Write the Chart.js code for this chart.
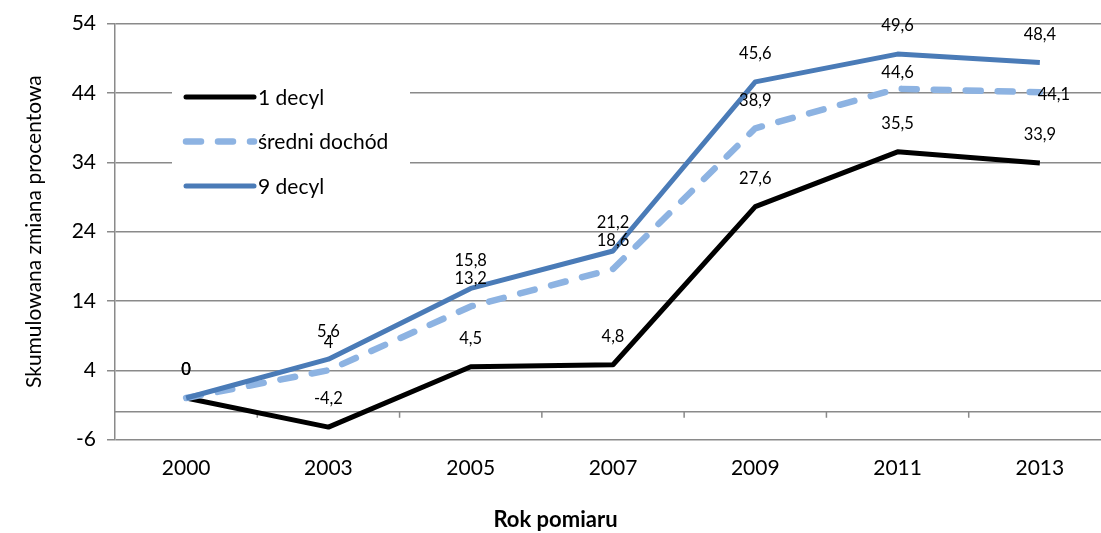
<!DOCTYPE html>
<html lang="pl">
<head>
<meta charset="utf-8">
<title>Skumulowana zmiana procentowa</title>
<script src="https://cdn.jsdelivr.net/npm/chart.js@4/dist/chart.umd.min.js"></script>
<style>
  html, body { margin: 0; padding: 0; background: #fff; overflow: hidden; }
  #wrap { position: relative; width: 1120px; height: 533px; }
</style>
</head>
<body>
<div id="wrap"><canvas id="wykres"></canvas></div>
<script>
// dane
const lata = ['2000', '2003', '2005', '2007', '2009', '2011', '2013'];
const decyl1 = [0, -4.2, 4.5, 4.8, 27.6, 35.5, 33.9];
const sredniDochod = [0, 4, 13.2, 18.6, 38.9, 44.6, 44.1];
const decyl9 = [0, 5.6, 15.8, 21.2, 45.6, 49.6, 48.4];
const nazwySerii = ['1 decyl', 'średni dochód', '9 decyl'];
const osY = { min: -6, max: 54, krok: 10, przeciecie: -2 };

const FONT = 'Lato, "Open Sans", sans-serif';
const SIATKA = '#8a8a8a';

// etykiety z wartościami (przesunięcia wyjątków: "seria:punkt")
const przesuniecia = { '1:5': [0, -16], '1:6': [14, 2] };

const etykietyPlugin = {
    id: 'etykiety',
    afterDatasetsDraw(chart) {
        const ctx = chart.ctx;
        ctx.save();
        ctx.font = '16.5px ' + FONT;
        ctx.fillStyle = '#000';
        ctx.textAlign = 'center';
        ctx.textBaseline = 'middle';
        chart.data.datasets.forEach((ds, i) => {
            chart.getDatasetMeta(i).data.forEach((pt, j) => {
                const o = przesuniecia[i + ':' + j] || [0, -28];
                ctx.fillText(String(ds.data[j]).replace('.', ','), pt.x + o[0], pt.y + o[1]);
            });
        });
        ctx.restore();
    }
};

// linia osi kategorii (przecina oś Y przy -2) ze znacznikami
const osPlugin = {
    id: 'osKategorii',
    beforeDatasetsDraw(chart) {
        const { ctx, chartArea, scales } = chart;
        const y = scales.y.getPixelForValue(osY.przeciecie);
        const x = scales.x;
        const pol = (x.getPixelForValue(1) - x.getPixelForValue(0)) / 2;
        ctx.save();
        ctx.strokeStyle = SIATKA;
        ctx.lineWidth = 1.5;
        ctx.beginPath();
        ctx.moveTo(chartArea.left, y);
        ctx.lineTo(chartArea.right, y);
        for (let i = 1; i < lata.length; i++) {
            const px = x.getPixelForValue(i) - pol;
            ctx.moveTo(px, y);
            ctx.lineTo(px, y + 6);
        }
        ctx.stroke();
        ctx.restore();
    }
};

// legenda w obszarze wykresu, na białym tle
const legendaPlugin = {
    id: 'legenda',
    afterDraw(chart) {
        const ctx = chart.ctx;
        ctx.save();
        ctx.fillStyle = '#fff';
        ctx.fillRect(172, 66, 238, 138);
        ctx.font = '21px ' + FONT;
        ctx.textBaseline = 'middle';
        ctx.fillStyle = '#000';
        chart.data.datasets.forEach((ds, i) => {
            const y = 97 + i * 44.5;
            ctx.strokeStyle = ds.borderColor;
            ctx.lineWidth = ds.borderWidth;
            ctx.lineCap = 'round';
            ctx.setLineDash(ds.borderDash || []);
            ctx.beginPath();
            ctx.moveTo(186, y);
            ctx.lineTo(254, y);
            ctx.stroke();
            ctx.setLineDash([]);
            ctx.fillText(ds.label, 258, y + 1);
        });
        ctx.restore();
    }
};

new Chart(document.getElementById('wykres'), {
    type: 'line',
    data: {
        labels: lata,
        datasets: [
            {
                label: nazwySerii[0],
                data: decyl1,
                borderColor: '#000000',
                borderWidth: 5,
                order: 3
            },
            {
                label: nazwySerii[1],
                data: sredniDochod,
                borderColor: '#8db3e2',
                borderWidth: 6.5,
                borderDash: [15, 17],
                borderCapStyle: 'round',
                order: 2
            },
            {
                label: nazwySerii[2],
                data: decyl9,
                borderColor: '#4a7bb7',
                borderWidth: 5,
                order: 1
            }
        ]
    },
    options: {
        responsive: true,
        maintainAspectRatio: false,
        animation: false,
        layout: { padding: { top: 20, right: 9, left: 0, bottom: 0 } },
        elements: {
            line: { tension: 0, borderJoinStyle: 'round', fill: false },
            point: { radius: 0, hoverRadius: 0 }
        },
        scales: {
            x: {
                offset: true,
                grid: { display: false, drawTicks: false },
                border: { display: false },
                ticks: { color: '#000', padding: 16, font: { family: FONT, size: 21 } },
                afterFit: s => { s.height = 60; }
            },
            y: {
                min: osY.min,
                max: osY.max,
                ticks: {
                    stepSize: osY.krok,
                    color: '#000',
                    padding: 11,
                    font: { family: FONT, size: 21 }
                },
                grid: { color: SIATKA, lineWidth: 1.5, tickLength: 8 },
                border: { display: true, color: SIATKA, width: 1.5 },
                title: {
                    display: true,
                    text: 'Skumulowana zmiana procentowa',
                    color: '#000',
                    font: { family: FONT, size: 21 },
                    padding: { top: 22, bottom: 0 }
                },
                afterFit: s => { s.width = 115; }
            }
        },
        plugins: {
            legend: { display: false },
            tooltip: { enabled: false },
            title: {
                display: true,
                position: 'bottom',
                text: 'Rok pomiaru',
                color: '#000',
                font: { family: FONT, size: 22, weight: 'bold' },
                padding: { top: 7, bottom: 0 }
            }
        }
    },
    plugins: [osPlugin, etykietyPlugin, legendaPlugin]
});
</script>
</body>
</html>
